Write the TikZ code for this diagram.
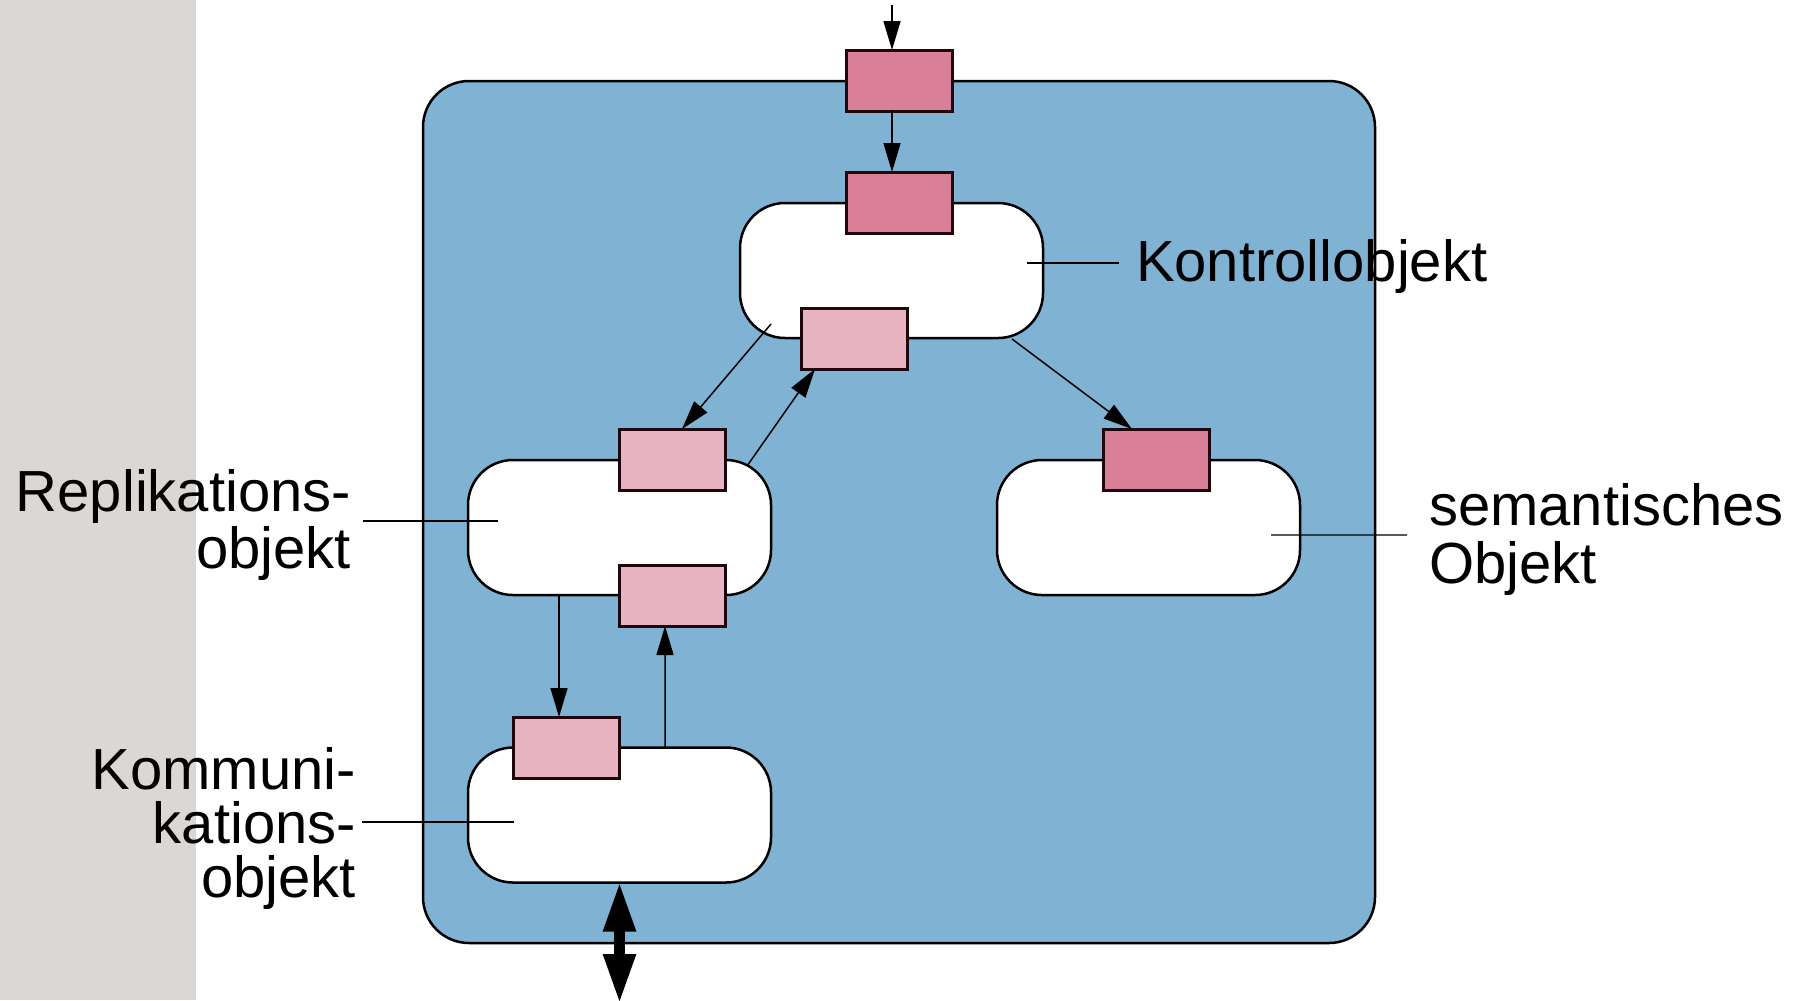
\documentclass[tikz,border=0pt]{standalone}
\usepackage{fontspec}
\setmainfont{Liberation Sans}
\usetikzlibrary{arrows.meta,calc}
\definecolor{bgray}{RGB}{219,215,212}
\definecolor{mblue}{RGB}{127,178,211}
\definecolor{dpink}{RGB}{217,128,152}
\definecolor{lpink}{RGB}{232,180,193}
\definecolor{pborder}{RGB}{30,8,14}
\tikzset{
 container/.style={draw=black, line width=0.25mm, fill=mblue, rounded corners=4.6mm, minimum width=95.2mm, minimum height=86.2mm, inner sep=0, outer sep=0},
 obj/.style={draw=black, line width=0.25mm, fill=white, rounded corners=4.5mm, minimum width=30.3mm, minimum height=13.5mm, inner sep=0, outer sep=0},
 port/.style={draw=pborder, line width=0.3mm, minimum width=10.6mm, minimum height=6.1mm, inner sep=0, outer sep=0},
 darkport/.style={port, fill=dpink},
 lightport/.style={port, fill=lpink},
 flow/.style={line width=0.15mm, -{Triangle[length=2.9mm,width=1.7mm]}},
 bigflow/.style={line width=1.1mm, {Triangle[length=5mm,width=3mm]}-{Triangle[length=5mm,width=3mm]}},
 leader/.style={line width=0.12mm},
 lbl/.style={font=\fontsize{16.5pt}{19.8pt}\selectfont, inner sep=0, outer sep=0},
}
\begin{document}
\begin{tikzpicture}[x=0.1mm,y=-0.1mm]
\useasboundingbox (0,0) rectangle (1798,1000);
\fill[bgray] (0,0) rectangle (196,1000);
% container
\node[container] (box) at (899,512) {};
% objects
\node[obj] (ko) at (891.5,270.5) {};
\node[obj] (ro) at (619.5,527.5) {};
\node[obj] (co) at (619.5,815) {};
\node[obj] (so) at (1148.5,527.5) {};
% ports
\node[darkport] (p0) at (899,80.5) {};
\node[darkport] (pk1) at (899,202.5) {};
\node[lightport] (pk2) at (854,338.5) {};
\node[lightport] (pr1) at (672.5,459.5) {};
\node[lightport] (pr2) at (672.5,595.5) {};
\node[lightport] (pc) at (566.5,747.5) {};
\node[darkport] (ps) at (1156.5,459.5) {};
% connectors
\coordinate (in) at (892,5);
\coordinate (out) at (619.5,1004);
\draw[flow] (in) -- ($(p0.north)+(-7,0)$);
\draw[flow] ($(p0.south)+(-7,0)$) -- ($(pk1.north)+(-7,0)$);
\draw[flow] ($(ko.center)+(-120.5,53.5)$) -- ($(pr1.north)+(9.5,0)$);
\draw[flow] ($(ro.center)+(127.5,-61.5)$) -- ($(pk2.south)+(-39,0)$);
\draw[flow] ($(ko.center)+(120.5,68.5)$) -- ($(ps.north)+(-24.5,0)$);
\draw[flow] ($(ro.south)+(-60.5,0)$) -- ($(pc.north)+(-7.5,0)$);
\draw[flow] ($(co.north)+(45.5,0)$) -- ($(pr2.south)+(-7.5,0)$);
\draw[bigflow] ($(co.south)+(0,-1)$) -- (out);
% labels
\node[lbl, anchor=base west] (kl) at (1136,281) {Kontrollobjekt};
\node[lbl, anchor=base east] (r1) at (351,511) {Replikations-};
\node[lbl, anchor=base east] (r2) at (351,568) {objekt};
\node[lbl, anchor=base east] (k1) at (356,789) {Kommuni-};
\node[lbl, anchor=base east] (k2) at (356,843) {kations-};
\node[lbl, anchor=base east] (k3) at (356,897) {objekt};
\node[lbl, anchor=base west] (s1) at (1429,525) {semantisches};
\node[lbl, anchor=base west] (s2) at (1429,583) {Objekt};
% leaders
\draw[leader] ($(ko.center)+(135.5,-7.5)$) -- ($(kl.base west)+(-17,-18)$);
\draw[leader] ($(ro.center)+(-121.5,-6.5)$) -- ($(r1.base east)+(12,10)$);
\draw[leader] ($(co.center)+(-105.5,7)$) -- ($(k2.base east)+(6,-21)$);
\draw[leader] ($(so.center)+(122.5,7.5)$) -- ($(s1.base west)+(-22,10)$);
\end{tikzpicture}
\end{document}
